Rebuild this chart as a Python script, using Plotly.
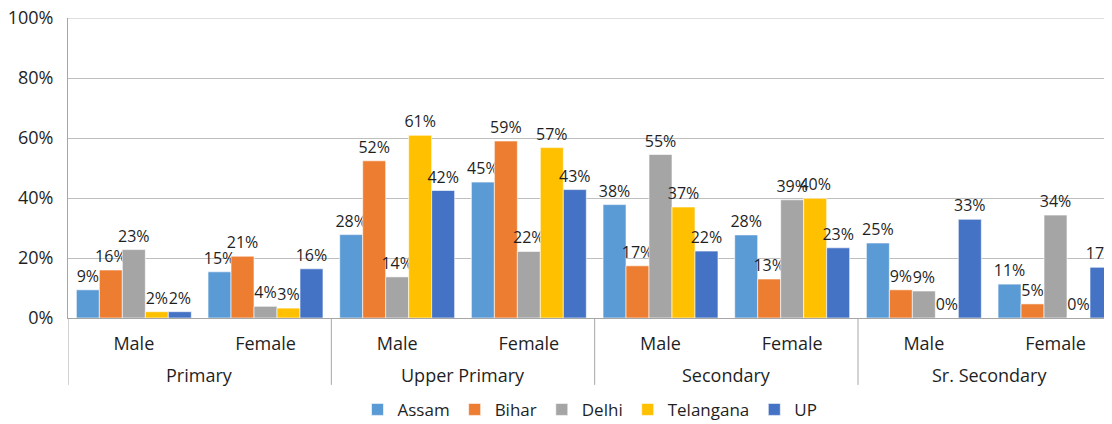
import plotly.graph_objects as go

groups = ["Primary", "Upper Primary", "Secondary", "Sr. Secondary"]
genders = ["Male", "Female"] * 4
positions = list(range(len(genders)))

series_names = ["Assam", "Bihar", "Delhi", "Telangana", "UP"]
assam = [0.094, 0.154, 0.278, 0.453, 0.378, 0.277, 0.250, 0.113]
bihar = [0.160, 0.206, 0.524, 0.590, 0.174, 0.130, 0.094, 0.047]
delhi = [0.228, 0.039, 0.137, 0.222, 0.545, 0.394, 0.090, 0.343]
telangana = [0.021, 0.033, 0.609, 0.568, 0.370, 0.399, 0.0, 0.0]
up = [0.021, 0.164, 0.425, 0.428, 0.223, 0.234, 0.329, 0.169]
colors = ["#5B9BD5", "#ED7D31", "#A5A5A5", "#FFC000", "#4472C4"]

y_ticks = [0, 0.2, 0.4, 0.6, 0.8, 1.0]
y_labels = ["0%", "20%", "40%", "60%", "80%", "100%"]

FONT = "Open Sans"
TXT = "#1F1F1F"
LINE = "#A6A6A6"
GRID = "#BFBFBF"

fig = go.Figure()
for name, vals, c in zip(series_names, [assam, bihar, delhi, telangana, up], colors):
    fig.add_trace(go.Bar(
        name=name,
        x=positions,
        y=vals,
        marker=dict(color=c, line=dict(color="white", width=0.6)),
        text=[f"{round(v*100):.0f}%" for v in vals],
        textposition="outside",
        constraintext="none",
        cliponaxis=True,
        textfont=dict(family=FONT, size=16, color=TXT),
    ))

# group labels under the gender labels, centred on each pair of categories
for i, g in enumerate(groups):
    fig.add_annotation(
        x=2 * i + 0.5, xref="x", y=-0.19, yref="paper",
        text=g, showarrow=False, yanchor="middle",
        font=dict(family=FONT, size=18, color=TXT),
    )
    # divider at the left boundary of each group
    fig.add_shape(
        type="line", xref="x", yref="paper",
        x0=2 * i - 0.5, x1=2 * i - 0.5, y0=0, y1=-0.223,
        line=dict(color=LINE, width=1),
    )

# top gridline (plotly drops the gridline at the range edge)
fig.add_shape(
    type="line", xref="paper", yref="y",
    x0=0, x1=1, y0=y_ticks[-1], y1=y_ticks[-1],
    line=dict(color=GRID, width=1), layer="below",
)

fig.update_layout(
    width=1104, height=416,
    margin=dict(l=60, r=0, t=10, b=106, autoexpand=False),
    paper_bgcolor="white", plot_bgcolor="white",
    barmode="group", bargap=0.127, bargroupgap=0,
    font=dict(family=FONT, size=16, color=TXT),
    showlegend=True,
    legend=dict(orientation="h", x=0.5, xanchor="center",
                yref="container", y=0.034, yanchor="middle",
                font=dict(family=FONT, size=17, color=TXT), itemwidth=30,
                traceorder="normal"),
)
fig.update_xaxes(
    range=[-0.5, 7.429],
    tickvals=positions, ticktext=genders,
    showline=True, linecolor=LINE, linewidth=1,
    showgrid=False, zeroline=False,
    tickfont=dict(family=FONT, size=18, color=TXT),
    ticks="", ticklabelstandoff=9, automargin=False,
)
fig.update_yaxes(
    range=[0, 1.0],
    tickvals=y_ticks, ticktext=y_labels,
    showgrid=True, gridcolor=GRID, gridwidth=1,
    showline=True, linecolor=LINE, linewidth=1,
    zeroline=False,
    tickfont=dict(family=FONT, size=18, color=TXT),
    ticks="", ticklabelstandoff=10, automargin=False,
    ticklabeloverflow="allow",
)

fig.write_html("out.html")
